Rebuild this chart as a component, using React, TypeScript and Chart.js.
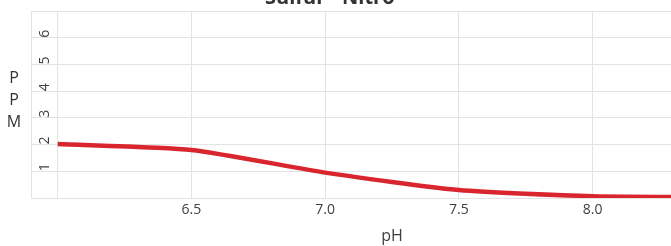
import React, { useEffect, useRef } from "react";
import { Chart, registerables } from "chart.js";

Chart.register(...registerables);

const titleText = "Sulfur - Nitro";
const xAxisTitle = "pH";
const yAxisTitleLetters = ["P", "P", "M"];

const phValues = [6.0, 6.5, 7.0, 7.5, 8.0, 8.5];
const ppmValues = [2.02, 1.8, 0.95, 0.3, 0.07, 0.03];

const xTickValues = [6.0, 6.5, 7.0, 7.5, 8.0, 8.5];
const xTickLabels = ["", "6.5", "7.0", "7.5", "8.0", "8.5"];
const yTickValues = [0, 1, 2, 3, 4, 5, 6, 7];
const yTickLabels = ["", "1", "2", "3", "4", "5", "6", ""];

const FONT = "'Open Sans', 'Noto Sans', sans-serif";

const textPlugin = {
  id: "extraText",
  afterDraw(chart: any) {
    const ctx = chart.ctx;
    ctx.save();
    ctx.fillStyle = "#333333";
    ctx.font = `bold 20px ${FONT}`;
    ctx.textAlign = "left";
    ctx.textBaseline = "alphabetic";
    ctx.fillText(titleText, 265, 4);
    ctx.font = `16px ${FONT}`;
    ctx.textAlign = "center";
    ctx.textBaseline = "middle";
    yAxisTitleLetters.forEach((ch, i) => {
      ctx.fillText(ch, 14, 78 + i * 22);
    });
    ctx.restore();
  },
};

export default function App() {
  const ref = useRef<HTMLCanvasElement>(null);
  useEffect(() => {
    if (!ref.current) return;
    const chart = new Chart(ref.current, {
      type: "line",
      data: {
        datasets: [
          {
            data: phValues.map((x, i) => ({ x, y: ppmValues[i] })),
            borderColor: "#d9262e",
            borderWidth: 4.5,
            pointRadius: 0,
            tension: 0.2,
            fill: false,
          },
        ],
      },
      options: {
        animation: false,
        responsive: false,
        devicePixelRatio: 1,
        layout: { padding: { left: 19, top: 11, right: 7, bottom: 0 } },
        plugins: { legend: { display: false }, title: { display: false }, tooltip: { enabled: false } },
        scales: {
          x: {
            type: "linear",
            min: 5.9,
            max: 8.6,
            afterBuildTicks: (scale: any) => {
              scale.ticks = xTickValues.map((v) => ({ value: v }));
            },
            afterFit: (scale: any) => {
              scale.paddingLeft = 0;
              scale.paddingRight = 0;
              scale.height = 48;
            },
            ticks: {
              autoSkip: false,
              maxRotation: 0,
              minRotation: 0,
              padding: 4,
              color: "#404040",
              font: { family: FONT, size: 14 },
              callback: (v: any, i: number) => xTickLabels[i],
            },
            grid: { color: "#e3e3e3", drawTicks: false },
            border: { color: "#e3e3e3" },
            title: {
              display: true,
              text: xAxisTitle,
              color: "#404040",
              font: { family: FONT, size: 16 },
              padding: { top: 8, bottom: 0 },
            },
          },
          y: {
            type: "linear",
            min: 0,
            max: 7,
            afterBuildTicks: (scale: any) => {
              scale.ticks = yTickValues.map((v) => ({ value: v }));
            },
            afterFit: (scale: any) => {
              scale.paddingTop = 0;
              scale.paddingBottom = 0;
              scale.width = 12;
            },
            ticks: {
              mirror: true,
              padding: 14,
              minRotation: 90,
              maxRotation: 90,
              autoSkip: false,
              color: "#404040",
              font: { family: FONT, size: 14 },
              callback: (v: any, i: number) => yTickLabels[i],
            },
            grid: { color: "#e3e3e3", drawTicks: false },
            border: { color: "#e3e3e3" },
          },
        },
      },
      plugins: [textPlugin],
    });
    return () => chart.destroy();
  }, []);
  return (
    <div style={{ position: "absolute", left: 0, top: 0, width: 671, height: 246, overflow: "hidden", background: "#ffffff" }}>
      <canvas ref={ref} width={760} height={246} style={{ display: "block" }} />
    </div>
  );
}
